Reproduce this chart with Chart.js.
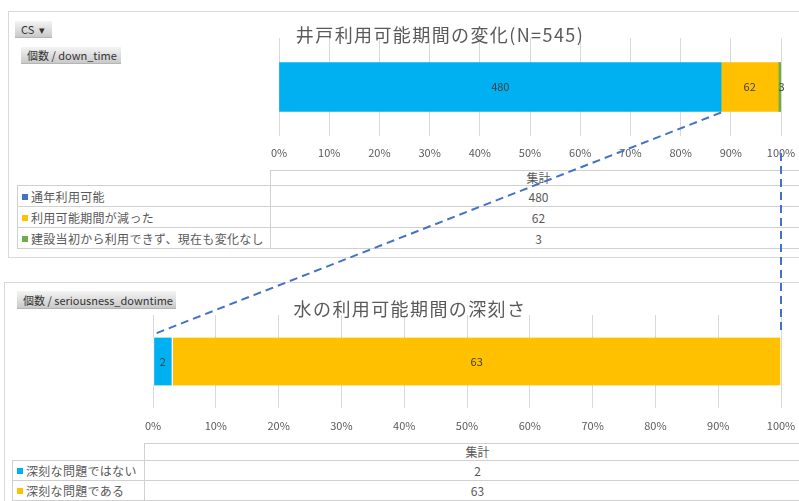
<!DOCTYPE html>
<html lang="ja">
<head>
<meta charset="utf-8">
<script src="https://cdn.jsdelivr.net/npm/chart.js@4"></script>
<style>
  body {
    margin: 0;
    width: 799px;
    height: 501px;
    overflow: hidden;
    position: relative;
    background: #fff;
    font-family: "Noto Sans CJK JP", "Noto Sans", sans-serif;
    color: #595959;
  }
  .panel {
    position: absolute;
    border: 1px solid #d9d9d9;
    background: #fff;
  }
  .btn {
    position: absolute;
    height: 17px;
    line-height: 17px;
    font-size: 11px;
    color: #333;
    padding: 0 6px;
    box-sizing: border-box;
    background: linear-gradient(#f4f4f4, #c9c9c9);
    border-bottom: 1px solid #b5b5b5;
    white-space: nowrap;
  }
  .title {
    position: absolute;
    font-size: 18px;
    letter-spacing: 1.4px;
    color: #595959;
    white-space: nowrap;
    transform: translate(-50%, -50%);
  }
  canvas { position: absolute; }
  table {
    position: absolute;
    border-collapse: collapse;
    table-layout: fixed;
    font-size: 12px;
    color: #595959;
  }
  td {
    border: 1px solid #d0d0d0;
    padding: 0;
    white-space: nowrap;
    overflow: hidden;
  }
  td.lab { padding-left: 4px; letter-spacing: 0.3px; }
  td.val { text-align: center; }
  .sq {
    display: inline-block;
    width: 6px;
    height: 6px;
    margin-right: 3px;
    vertical-align: 2px;
  }
  #links { position: absolute; left: 0; top: 0; pointer-events: none; }
</style>
</head>
<body>
<div class="panel" style="left:8px; top:11px; width:800px; height:245px;"></div>
<div class="panel" style="left:4px; top:282px; width:810px; height:230px;"></div>

<div class="btn" style="left:15px; top:21px; width:37px;">CS &nbsp;▾</div>
<div class="btn" style="left:21px; top:47px; width:100px;">個数 / down_time</div>
<div class="btn" style="left:17px; top:291px; width:159px; height:18px; line-height:18px;">個数 / seriousness_downtime</div>

<canvas id="wellChart" style="left:270px; top:20px;" width="529" height="150"></canvas>
<canvas id="seriousChart" style="left:144px; top:296px;" width="655" height="140"></canvas>

<div class="title" style="left:440px; top:34px;">井戸利用可能期間の変化(N=545)</div>
<div class="title" style="left:410px; top:308px;">水の利用可能期間の深刻さ</div>

<table id="wellTable" style="left:17px; top:170px;"></table>
<table id="seriousTable" style="left:12px; top:443px;"></table>

<svg id="links" width="799" height="501"></svg>

<script>
// counts per answer
const wellLabels = ['通年利用可能', '利用可能期間が減った', '建設当初から利用できず、現在も変化なし'];
const wellCounts = [480, 62, 3];
const wellBarColors = ['#00b0f0', '#ffc000', '#70ad47'];
const wellKeyColors = ['#4472c4', '#ffc000', '#70ad47'];

const seriousLabels = ['深刻な問題ではない', '深刻な問題である'];
const seriousCounts = [2, 63];
const seriousColors = ['#00b0f0', '#ffc000'];

const pctTicks = [0, 10, 20, 30, 40, 50, 60, 70, 80, 90, 100];

// writes the count in the middle of each stacked segment
const segmentLabels = {
  id: 'segmentLabels',
  afterDatasetsDraw(chart) {
    const ctx = chart.ctx;
    ctx.save();
    ctx.font = '11px "Noto Sans CJK JP", "Noto Sans", sans-serif';
    ctx.fillStyle = '#404040';
    ctx.textAlign = 'center';
    ctx.textBaseline = 'middle';
    chart.data.datasets.forEach((ds, i) => {
      chart.getDatasetMeta(i).data.forEach(bar => {
        ctx.fillText(String(ds.count), (bar.x + bar.base) / 2 + (ds.labelShift || 0), bar.y);
      });
    });
    ctx.restore();
  }
};

function makeStacked(canvasId, labels, counts, colors, opts) {
  const total = counts.reduce((a, b) => a + b, 0);
  const datasets = labels.map((lab, i) => ({
    label: lab,
    count: counts[i],
    data: [counts[i] / total * 100],
    backgroundColor: colors[i],
    borderColor: '#ffffff',
    borderWidth: opts.gap ? { right: 1, left: 1 } : 0,
    borderSkipped: false,
    barThickness: opts.thickness,
    labelShift: (opts.shifts && opts.shifts[i]) || 0
  }));

  return new Chart(document.getElementById(canvasId), {
    type: 'bar',
    data: { labels: [''], datasets },
    options: {
      indexAxis: 'y',
      responsive: false,
      animation: false,
      layout: { padding: opts.padding },
      plugins: { legend: { display: false }, tooltip: { enabled: false } },
      scales: {
        x: {
          stacked: true,
          min: 0,
          max: 100,
          afterBuildTicks: axis => { axis.ticks = pctTicks.map(v => ({ value: v })); },
          // fixed axis height, no extra room for the end labels
          afterFit: axis => {
            axis.height = opts.axisH;
            axis.paddingLeft = 0;
            axis.paddingRight = 0;
            axis.paddingTop = 0;
            axis.paddingBottom = 0;
          },
          grid: { color: '#d9d9d9', lineWidth: 1, drawTicks: false },
          border: { display: false },
          ticks: {
            padding: opts.tickPad,
            color: '#595959',
            font: { family: '"Noto Sans CJK JP", "Noto Sans", sans-serif', size: 11 },
            callback: v => v + '%'
          }
        },
        y: { stacked: true, display: false }
      }
    },
    plugins: [segmentLabels]
  });
}

const wellChart = makeStacked('wellChart', wellLabels, wellCounts, wellBarColors, {
  padding: { left: 9, right: 18, top: 18, bottom: 10 },
  axisH: 24,
  thickness: 49,
  tickPad: 10,
  gap: false,
  shifts: [0, 0, 2]
});

const seriousChart = makeStacked('seriousChart', seriousLabels, seriousCounts, seriousColors, {
  padding: { left: 9, right: 18, top: 19, bottom: 3 },
  axisH: 25,
  thickness: 48,
  tickPad: 11,
  gap: true
});

// summary tables under each chart
function fillTable(id, labels, counts, keys, rowH, headH, leftW, rightW) {
  const t = document.getElementById(id);
  t.style.width = (leftW + rightW) + 'px';
  let html = `<colgroup><col style="width:${leftW}px"><col style="width:${rightW}px"></colgroup>` +
             `<tr style="height:${headH}px"><td style="border:none"></td>` +
             `<td class="val" style="line-height:${headH}px">集計</td></tr>`;
  labels.forEach((lab, i) => {
    html += `<tr style="height:${rowH}px"><td class="lab"><span class="sq" style="background:${keys[i]}"></span>${lab}</td>` +
            `<td class="val">${counts[i]}</td></tr>`;
  });
  t.innerHTML = html;
}

fillTable('wellTable', wellLabels, wellCounts, wellKeyColors, 21, 14, 253, 536);
fillTable('seriousTable', seriousLabels, seriousCounts, seriousColors, 20, 16, 132, 666);

// dashed links from the first chart down to the second
function drawLinks() {
  const svg = document.getElementById('links');
  const topBox = wellChart.canvas.getBoundingClientRect();
  const botBox = seriousChart.canvas.getBoundingClientRect();

  const firstBar = wellChart.getDatasetMeta(0).data[0];
  const lowBar = seriousChart.getDatasetMeta(0).data[0];
  const full = wellChart.scales.x.getPixelForValue(100);

  const x1 = topBox.left + firstBar.x;
  const y1 = topBox.top + firstBar.y + firstBar.height / 2 + 1;
  const x2 = botBox.left + seriousChart.chartArea.left;
  const y2 = botBox.top + lowBar.y - lowBar.height / 2 - 3;

  const x3 = topBox.left + full;
  const y3 = topBox.top + wellChart.chartArea.bottom + 17;
  const x4 = botBox.left + seriousChart.scales.x.getPixelForValue(100);

  const style = 'stroke="#4472c4" stroke-width="2" stroke-dasharray="8 5" fill="none"';
  svg.innerHTML =
    `<line x1="${x1}" y1="${y1}" x2="${x2}" y2="${y2}" ${style}/>` +
    `<line x1="${x3}" y1="${y3}" x2="${x4}" y2="${y2}" ${style}/>`;
}

drawLinks();
</script>
</body>
</html>
